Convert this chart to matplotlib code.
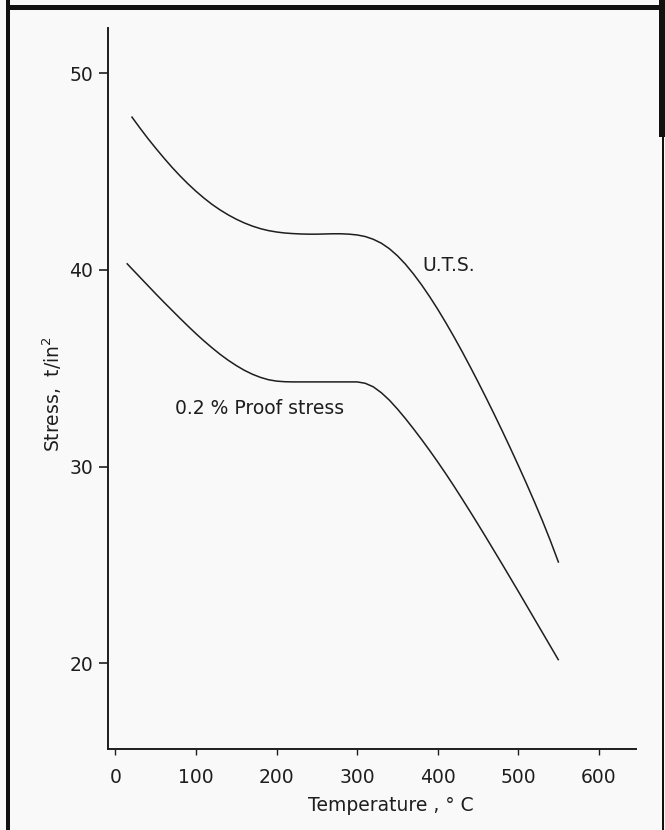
import matplotlib
matplotlib.use("Agg")
import matplotlib.pyplot as plt
from matplotlib.patches import Rectangle

# Tensile properties vs temperature (stress in tons per square inch)
uts_temp = [20, 30, 40, 50, 60, 70, 80, 90, 100, 110, 120, 130, 140, 150, 160,
            170, 180, 190, 200, 210, 220, 230, 240, 250, 260, 270, 280, 290,
            300, 310, 320, 330, 340, 350, 360, 370, 380, 390, 400, 410, 420,
            430, 440, 450, 460, 470, 480, 490, 500, 510, 520, 530, 540, 550]
uts_stress = [47.80, 47.24, 46.70, 46.19, 45.70, 45.23, 44.79, 44.38, 44.00,
              43.65, 43.33, 43.05, 42.80, 42.58, 42.39, 42.23, 42.10, 42.00,
              41.93, 41.88, 41.85, 41.83, 41.82, 41.82, 41.83, 41.84, 41.84,
              41.82, 41.78, 41.70, 41.56, 41.36, 41.08, 40.72, 40.29, 39.79,
              39.24, 38.64, 38.00, 37.32, 36.61, 35.87, 35.10, 34.31, 33.50,
              32.67, 31.82, 30.95, 30.06, 29.15, 28.21, 27.24, 26.21, 25.12]

proof_temp = [14, 20, 30, 40, 50, 60, 70, 80, 90, 100, 110, 120, 130, 140, 150,
              160, 170, 180, 190, 200, 210, 220, 240, 260, 280, 300, 310, 320,
              330, 340, 350, 360, 370, 380, 390, 400, 410, 420, 430, 440, 450,
              460, 470, 480, 490, 500, 510, 520, 530, 540, 550]
proof_stress = [40.34, 40.08, 39.65, 39.22, 38.79, 38.37, 37.96, 37.55, 37.15,
                36.76, 36.39, 36.04, 35.71, 35.41, 35.14, 34.90, 34.70, 34.54,
                34.42, 34.35, 34.32, 34.31, 34.31, 34.31, 34.31, 34.31, 34.24,
                34.06, 33.76, 33.38, 32.93, 32.44, 31.92, 31.38, 30.82, 30.24,
                29.64, 29.02, 28.38, 27.73, 27.07, 26.40, 25.72, 25.04, 24.35,
                23.66, 22.96, 22.26, 21.56, 20.86, 20.16]

x_ticks = [0, 100, 200, 300, 400, 500, 600]
y_ticks = [20, 30, 40, 50]

W, H = 665, 830
BG = "#f9f9f9"
INK = "#1e1e1e"

plt.rcParams["font.family"] = "DejaVu Sans"
plt.rcParams["font.size"] = 13.5

fig = plt.figure(figsize=(W / 100, H / 100), dpi=100, facecolor=BG)


def px(x0, y0, w, h):
    """pixel box (from top-left) -> figure fraction rect"""
    return [x0 / W, 1 - (y0 + h) / H, w / W, h / H]


ax = fig.add_axes(px(108, 28, 528, 721))
ax.set_facecolor(BG)

for t, s in ((uts_temp, uts_stress), (proof_temp, proof_stress)):
    ax.plot(t, s, color=INK, lw=1.1, solid_capstyle="butt",
            solid_joinstyle="round")

ax.text(381, 40.25, "U.T.S.", ha="left", va="center", color=INK)
ax.text(74, 32.98, "0.2 % Proof stress", ha="left", va="center", color=INK)

ax.set_xlim(-9.2, 646)
ax.set_ylim(15.65, 52.3)
ax.set_xticks(x_ticks)
ax.set_yticks(y_ticks)

for side in ("top", "right"):
    ax.spines[side].set_visible(False)
for side in ("left", "bottom"):
    ax.spines[side].set_linewidth(1.4)
    ax.spines[side].set_color(INK)

ax.tick_params(axis="x", direction="out", length=4, width=1.0, pad=10,
               colors=INK, labelsize=13.5)
ax.tick_params(axis="y", direction="out", length=6.5, width=1.2, pad=4,
               colors=INK, labelsize=13.5)

fig.text(391 / W, 1 - 805 / H, "Temperature , ° C", ha="center", va="center",
         color=INK, fontsize=13.5)
fig.text(52 / W, 1 - 394 / H, "Stress,  t/in$^2$", ha="center", va="center",
         rotation=90, color=INK, fontsize=13.5)

# black frame around the sheet
frame = [
    (6, 0, 4, H),       # left
    (6, 5, W - 6, 5),   # top
    (659, 0, 6, 137),   # right, upper part
    (662, 137, 1.5, H - 137),
]
for x0, y0, w, h in frame:
    fig.patches.append(Rectangle((x0 / W, 1 - (y0 + h) / H), w / W, h / H,
                                 transform=fig.transFigure, color="#111111",
                                 lw=0, zorder=10))

fig.savefig("out.png", dpi=100, facecolor=BG)
